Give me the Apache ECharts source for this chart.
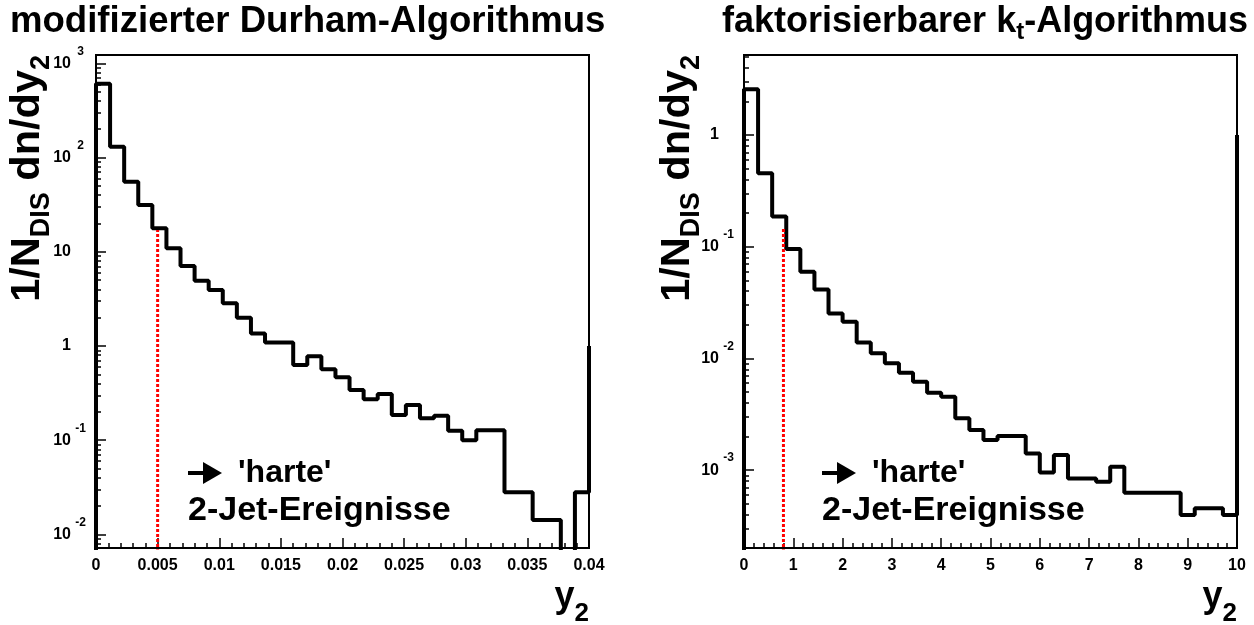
<!DOCTYPE html>
<html>
<head>
<meta charset="utf-8">
<script src="https://cdn.jsdelivr.net/npm/echarts@6/dist/echarts.min.js"></script>
<style>
html,body{margin:0;padding:0;background:#fff;}
#chart{width:1254px;height:625px;}
</style>
</head>
<body>
<div id="chart"></div>
<script>
// ---------- data ----------
const durhamRange = [0, 0.04];          // y2 range, 35 bins
const durhamValues = [609, 130, 55.5, 31.4, 17.8, 10.9, 7.07, 4.93, 3.93, 2.84,
  2.0, 1.36, 1.09, 1.09, 0.63, 0.78, 0.566, 0.465, 0.341, 0.272,
  0.309, 0.185, 0.236, 0.171, 0.182, 0.126, 0.100, 0.128, 0.128, 0.028,
  0.028, 0.0142, 0.0142, 0, 0.028];
const durhamOverflow = 1.0;
const durhamCut = [0.005, 17];          // red dotted cut line: x, top

const ktRange = [0, 10];
const ktValues = [2.57, 0.454, 0.186, 0.0953, 0.0597, 0.0415, 0.0253, 0.0213, 0.0139, 0.0111,
  0.00904, 0.00745, 0.00618, 0.00493, 0.00454, 0.00291, 0.00229, 0.00186, 0.00202, 0.00202,
  0.00141, 0.000955, 0.00137, 0.000844, 0.000844, 0.000787, 0.00107, 0.000628, 0.000628, 0.000628,
  0.000628, 0.000396, 0.000455, 0.000455, 0.000396];
const ktOverflow = 1.0;
const ktCut = [0.8, 0.146];

const durhamYRange = [0.00718, 1227];
const ktYRange = [0.000201, 5.2];
const durhamXInterval = 0.005;
const ktXInterval = 1;
const durhamYMajor = [0.01, 0.1, 1, 10, 100, 1000];
const ktYMajor = [0.001, 0.01, 0.1, 1];

const titles = ['modifizierter Durham-Algorithmus', ['faktorisierbarer k', 't', '-Algorithmus']];
const annotation = ["'harte'", '2-Jet-Ereignisse'];

// ---------- helpers ----------
const FF = 'Liberation Sans';
function histPoints(values, range, overflow, floor) {
  const w = (range[1] - range[0]) / values.length;
  const pts = [[range[0], floor]];
  values.forEach((v, i) => pts.push([range[0] + i * w, v > 0 ? v : floor]));
  pts.push([range[1], overflow]);
  return pts;
}
function minorLogTicks(r) {
  const out = [];
  for (let e = Math.floor(Math.log10(r[0])); e <= Math.ceil(Math.log10(r[1])); e++) {
    for (let m = 2; m <= 9; m++) {
      const v = m * Math.pow(10, e);
      if (v > r[0] && v < r[1]) out.push(v);
    }
  }
  return out;
}
function logLabel(v) {
  const e = Math.round(Math.log10(v));
  if (e === 0) return '{p|1}';
  if (e === 1) return '{p|10}';
  return '{b|10}{s|' + e + '}';
}
const labelRich = {
  b: {fontSize: 16, fontWeight: 'bold', fontFamily: FF, color: '#000'},
  s: {fontSize: 12, fontWeight: 'bold', fontFamily: FF, color: '#000', padding: [0, 0, 24, 2], width: 15, align: 'left'},
  p: {fontSize: 16, fontWeight: 'bold', fontFamily: FF, color: '#000', padding: [0, 17, 0, 0]}
};

const grids = [
  {left: 96, top: 55, width: 493, height: 493, show: true, borderColor: '#000', borderWidth: 2},
  {left: 744, top: 55, width: 493, height: 493, show: true, borderColor: '#000', borderWidth: 2}
];

function xAxisFor(gi, range, interval) {
  return {
    type: 'value', gridIndex: gi, min: range[0], max: range[1], interval: interval,
    axisLine: {show: true, lineStyle: {color: '#000', width: 2}},
    axisTick: {show: true, inside: true, length: 10, lineStyle: {color: '#000', width: 1.5}},
    minorTick: {show: true, splitNumber: 5, length: 5, lineStyle: {color: '#000', width: 1.5}},
    splitLine: {show: false},
    axisLabel: {fontSize: 16, fontWeight: 'bold', fontFamily: FF, color: '#000', margin: 10,
      formatter: v => String(+v.toFixed(6))}
  };
}
function yAxisMajor(gi, range, major) {
  return {
    type: 'log', logBase: 10, gridIndex: gi, min: range[0], max: range[1], position: 'left',
    axisLine: {show: true, lineStyle: {color: '#000', width: 2}},
    axisTick: {show: true, inside: true, length: 10, customValues: major, lineStyle: {color: '#000', width: 1.5}},
    splitLine: {show: false},
    axisLabel: {customValues: major, margin: 8, formatter: logLabel, rich: labelRich}
  };
}
function yAxisMinor(gi, range) {
  return {
    type: 'log', logBase: 10, gridIndex: gi, min: range[0], max: range[1], position: 'left',
    axisLine: {show: false},
    axisTick: {show: true, inside: true, length: 5, customValues: minorLogTicks(range), lineStyle: {color: '#000', width: 1.5}},
    splitLine: {show: false},
    axisLabel: {show: false}
  };
}

function histSeries(xi, yi, values, range, overflow, floor) {
  return {
    type: 'line', xAxisIndex: xi, yAxisIndex: yi, step: 'end', symbol: 'none', clip: true,
    data: histPoints(values, range, overflow, floor),
    lineStyle: {color: '#000', width: 4}, z: 3
  };
}
function cutSeries(xi, yi, cut, floor) {
  return {
    type: 'line', xAxisIndex: xi, yAxisIndex: yi, symbol: 'none', clip: true,
    data: [[cut[0], floor], [cut[0], cut[1]]],
    lineStyle: {color: '#ff0000', width: 3, type: [3, 2]}, z: 4
  };
}

const T = (extra) => Object.assign({fill: '#000', fontFamily: FF, fontWeight: 'bold'}, extra);
const yTitleRich = {
  a: {fontSize: 41.5, fontWeight: 'bold', fontFamily: FF, fill: '#000'},
  s: {fontSize: 27, fontWeight: 'bold', fontFamily: FF, fill: '#000', padding: [27, 0, 0, 0]}
};
const xTitleRich = {
  a: {fontSize: 36, fontWeight: 'bold', fontFamily: FF, fill: '#000'},
  s: {fontSize: 26, fontWeight: 'bold', fontFamily: FF, fill: '#000', padding: [34, 0, 0, 0]}
};
function yTitle(x) {
  return {type: 'text', x: x, y: 55, rotation: Math.PI / 2, z: 10,
    style: {text: '{a|1/N}{s|DIS}{a| dn/dy}{s|2}', align: 'right', verticalAlign: 'middle', rich: yTitleRich}};
}
function xTitle(x) {
  return {type: 'text', x: x, y: 597, z: 10,
    style: {text: '{a|y}{s|2}', align: 'right', verticalAlign: 'middle', rich: xTitleRich}};
}
function annot(x0) {
  return [
    {type: 'line', z: 10, shape: {x1: x0, y1: 473, x2: x0 + 17, y2: 473}, style: {stroke: '#000', lineWidth: 4}},
    {type: 'polygon', z: 10, shape: {points: [[x0 + 15, 462], [x0 + 34, 473], [x0 + 15, 484]]}, style: {fill: '#000'}},
    {type: 'text', z: 10, x: x0 + 50, y: 473, style: T({text: annotation[0], fontSize: 32, align: 'left', verticalAlign: 'middle'})},
    {type: 'text', z: 10, x: x0, y: 511, style: T({text: annotation[1], fontSize: 34, align: 'left', verticalAlign: 'middle'})}
  ];
}

const option = {
  animation: false,
  backgroundColor: '#fff',
  title: [
    {text: titles[0], left: 10, top: 3, padding: 0,
      textStyle: {fontSize: 36.6, fontWeight: 'bold', fontFamily: FF, color: '#000'}},
    {text: '{a|' + titles[1][0] + '}{s|' + titles[1][1] + '}{a|' + titles[1][2] + '}', left: 722, top: 0, padding: 0,
      textStyle: {rich: {
        a: {fontSize: 36, fontWeight: 'bold', fontFamily: FF, color: '#000'},
        s: {fontSize: 24, fontWeight: 'bold', fontFamily: FF, color: '#000', padding: [20, 0, 0, 0]}
      }}}
  ],
  grid: grids,
  xAxis: [xAxisFor(0, durhamRange, durhamXInterval), xAxisFor(1, ktRange, ktXInterval)],
  yAxis: [yAxisMajor(0, durhamYRange, durhamYMajor), yAxisMajor(1, ktYRange, ktYMajor),
          yAxisMinor(0, durhamYRange), yAxisMinor(1, ktYRange)],
  series: [
    histSeries(0, 0, durhamValues, durhamRange, durhamOverflow, 1e-5),
    cutSeries(0, 0, durhamCut, 1e-5),
    histSeries(1, 1, ktValues, ktRange, ktOverflow, 1e-7),
    cutSeries(1, 1, ktCut, 1e-7)
  ],
  graphic: [yTitle(28), yTitle(678), xTitle(589), xTitle(1237)].concat(annot(188), annot(822))
};

const chart = echarts.init(document.getElementById('chart'), null, {renderer: 'canvas'});
chart.setOption(option);
</script>
</body>
</html>
